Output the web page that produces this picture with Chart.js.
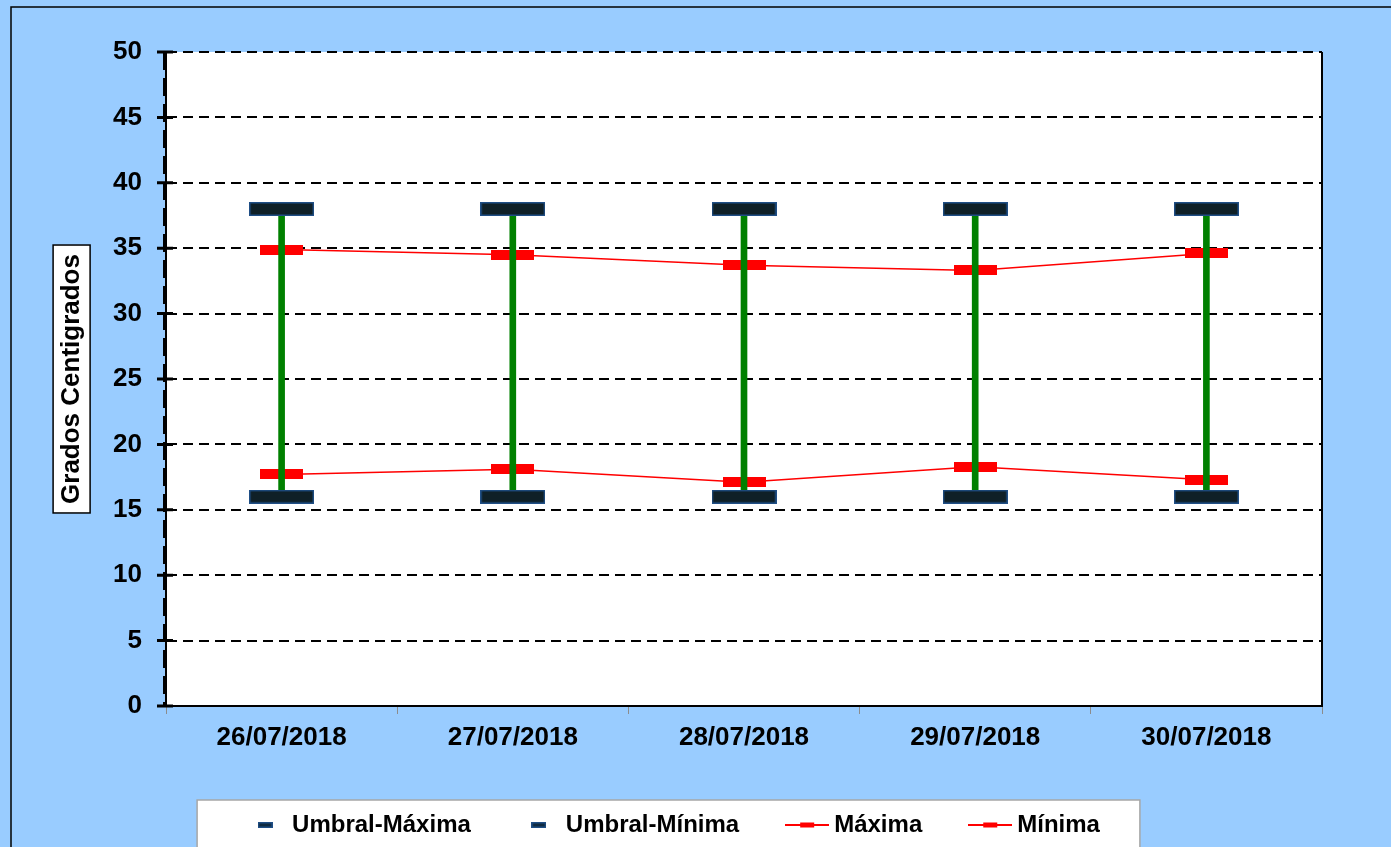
<!DOCTYPE html>
<html>
<head>
<meta charset="utf-8">
<script src="https://cdn.jsdelivr.net/npm/chart.js@4/dist/chart.umd.min.js"></script>
<style>
    body { margin: 0; background: #99CCFF; }
    #wrap { width: 1391px; height: 847px; position: relative; }
</style>
</head>
<body>
<div id="wrap"><canvas id="tempChart"></canvas></div>
<script>
const categories = ['26/07/2018', '27/07/2018', '28/07/2018', '29/07/2018', '30/07/2018'];
const umbralMaxima = [38, 38, 38, 38, 38];
const umbralMinima = [16, 16, 16, 16, 16];
const maxima = [34.9, 34.5, 33.7, 33.3, 34.6];
const minima = [17.7, 18.1, 17.1, 18.3, 17.3];
const yTicks = [0, 5, 10, 15, 20, 25, 30, 35, 40, 45, 50];

function makeMarker(w, h, fill, stroke) {
    const c = document.createElement('canvas');
    c.width = w;
    c.height = h;
    const g = c.getContext('2d');
    g.fillStyle = fill;
    g.fillRect(0, 0, w, h);
    if (stroke) {
        g.strokeStyle = stroke;
        g.lineWidth = 1.5;
        g.strokeRect(0.75, 0.75, w - 1.5, h - 1.5);
    }
    return c;
}

function makeLineMarker() {
    const c = document.createElement('canvas');
    c.width = 44;
    c.height = 6;
    const g = c.getContext('2d');
    g.fillStyle = '#FF0000';
    g.fillRect(0, 2, 44, 2);
    g.fillRect(15, 0.5, 14, 5);
    return c;
}

const umbralPoint = makeMarker(65, 14, '#0F2027', '#1F4E85');
const redPoint = makeMarker(43, 10, '#FF0000');
const umbralLegend = makeMarker(15, 6, '#0F2A40', '#1F4E85');
const redLegend = makeLineMarker();

const bgPlugin = {
    id: 'bgPlugin',
    beforeDraw(chart) {
        const ctx = chart.ctx;
        const a = chart.chartArea;
        ctx.save();
        ctx.fillStyle = '#99CCFF';
        ctx.fillRect(0, 0, chart.width, chart.height);
        ctx.strokeStyle = '#000';
        ctx.lineWidth = 1.5;
        ctx.strokeRect(11, 7, chart.width + 20, chart.height + 20);
        ctx.fillStyle = '#FFFFFF';
        ctx.fillRect(a.left, a.top, a.right - a.left, a.bottom - a.top);

        // legend frame
        const boxes = chart.legend.legendHitBoxes;
        if (boxes && boxes.length) {
            const first = boxes[0];
            const last = boxes[boxes.length - 1];
            const lx = first.left - 53;
            const ly = first.top - 13;
            const lw = last.left + last.width + 40 - lx;
            ctx.fillStyle = '#FFFFFF';
            ctx.fillRect(lx, ly, lw, chart.height - ly + 10);
            ctx.strokeStyle = '#A6A6A6';
            ctx.lineWidth = 1.5;
            ctx.strokeRect(lx, ly, lw, chart.height - ly + 10);
        }

        // y title frame
        const ys = chart.scales.y;
        ctx.font = 'bold 26px "Liberation Sans", Arial, sans-serif';
        const tw = ctx.measureText('Grados Centigrados').width;
        const cx = ys.left + 28 + 26 * 1.2 / 2;
        const cy = (ys.top + ys.bottom) / 2;
        ctx.fillStyle = '#FFFFFF';
        ctx.fillRect(cx - 18.5, cy - tw / 2 - 9, 37, tw + 18);
        ctx.strokeStyle = '#000';
        ctx.lineWidth = 1.5;
        ctx.strokeRect(cx - 18.5, cy - tw / 2 - 9, 37, tw + 18);
        ctx.restore();
    },
    afterDraw(chart) {
        const ctx = chart.ctx;
        const a = chart.chartArea;
        ctx.save();
        ctx.strokeStyle = '#000';
        ctx.lineWidth = 2;
        ctx.beginPath();
        ctx.moveTo(a.right, a.top);
        ctx.lineTo(a.right, a.bottom);
        ctx.moveTo(a.left, a.top);
        ctx.lineTo(a.left, a.bottom);
        ctx.moveTo(a.left, a.bottom);
        ctx.lineTo(a.right, a.bottom);
        ctx.stroke();
        // heavy dashed overlay on the value axis
        ctx.lineWidth = 4;
        ctx.setLineDash([18, 8]);
        ctx.beginPath();
        ctx.moveTo(a.left - 1, a.top);
        ctx.lineTo(a.left - 1, a.bottom);
        ctx.stroke();
        // tick marks crossing the value axis
        ctx.setLineDash([]);
        ctx.lineWidth = 3;
        ctx.beginPath();
        chart.scales.y.ticks.forEach(t => {
            const y = chart.scales.y.getPixelForValue(t.value);
            ctx.moveTo(a.left - 9, y);
            ctx.lineTo(a.left + 7, y);
        });
        ctx.stroke();
        ctx.restore();
    }
};

const legendStyles = {
    'Umbral-Máxima': umbralLegend,
    'Umbral-Mínima': umbralLegend,
    'Máxima': redLegend,
    'Mínima': redLegend
};

const ctx = document.getElementById('tempChart').getContext('2d');
new Chart(ctx, {
    type: 'line',
    data: {
        labels: categories,
        datasets: [{
            label: 'Umbral-Máxima',
            data: umbralMaxima,
            showLine: false,
            pointStyle: umbralPoint,
            borderColor: '#1F4E85',
            backgroundColor: '#0F2027',
            order: 0
        }, {
            label: 'Umbral-Mínima',
            data: umbralMinima,
            showLine: false,
            pointStyle: umbralPoint,
            borderColor: '#1F4E85',
            backgroundColor: '#0F2027',
            order: 1
        }, {
            label: 'rango',
            type: 'bar',
            data: categories.map((c, i) => [umbralMinima[i], umbralMaxima[i]]),
            backgroundColor: '#008000',
            barThickness: 6,
            order: 2
        }, {
            label: 'Máxima',
            data: maxima,
            borderColor: '#FF0000',
            borderWidth: 1.5,
            pointStyle: redPoint,
            tension: 0,
            fill: false,
            order: 3
        }, {
            label: 'Mínima',
            data: minima,
            borderColor: '#FF0000',
            borderWidth: 1.5,
            pointStyle: redPoint,
            tension: 0,
            fill: false,
            order: 4
        }]
    },
    options: {
        responsive: true,
        maintainAspectRatio: false,
        animation: false,
        layout: {
            padding: { left: 28, top: 52, right: 69, bottom: 0 }
        },
        plugins: {
            tooltip: { enabled: false },
            legend: {
                position: 'bottom',
                maxHeight: 88,
                labels: {
                    usePointStyle: true,
                    pointStyleWidth: 30,
                    padding: 53,
                    color: '#000',
                    font: { family: '"Liberation Sans", Arial, sans-serif', size: 24, weight: 'bold' },
                    filter: item => item.text !== 'rango',
                    generateLabels(chart) {
                        const items = Chart.defaults.plugins.legend.labels.generateLabels(chart);
                        items.forEach(it => { it.pointStyle = legendStyles[it.text] || it.pointStyle; });
                        return items;
                    }
                }
            }
        },
        scales: {
            x: {
                offset: true,
                afterFit(scale) { scale.height = 54; },
                grid: {
                    offset: true,
                    drawOnChartArea: false,
                    color: '#8C8C8C',
                    lineWidth: 1,
                    tickLength: 8
                },
                border: { color: '#000', width: 2 },
                ticks: {
                    color: '#000',
                    padding: 8,
                    font: { family: '"Liberation Sans", Arial, sans-serif', size: 26, weight: 'bold' }
                }
            },
            y: {
                min: 0,
                max: 50,
                afterFit(scale) { scale.width = 138; },
                afterBuildTicks(scale) { scale.ticks = yTicks.map(v => ({ value: v })); },
                grid: {
                    color: '#000',
                    lineWidth: 2,
                    drawTicks: false
                },
                border: { color: '#000', width: 2, dash: [10, 6] },
                ticks: {
                    color: '#000',
                    padding: 24,
                    font: { family: '"Liberation Sans", Arial, sans-serif', size: 26, weight: 'bold' }
                },
                title: {
                    display: true,
                    text: 'Grados Centigrados',
                    color: '#000',
                    padding: { top: 28, bottom: 0 },
                    font: { family: '"Liberation Sans", Arial, sans-serif', size: 26, weight: 'bold' }
                }
            }
        }
    },
    plugins: [bgPlugin]
});
</script>
</body>
</html>
